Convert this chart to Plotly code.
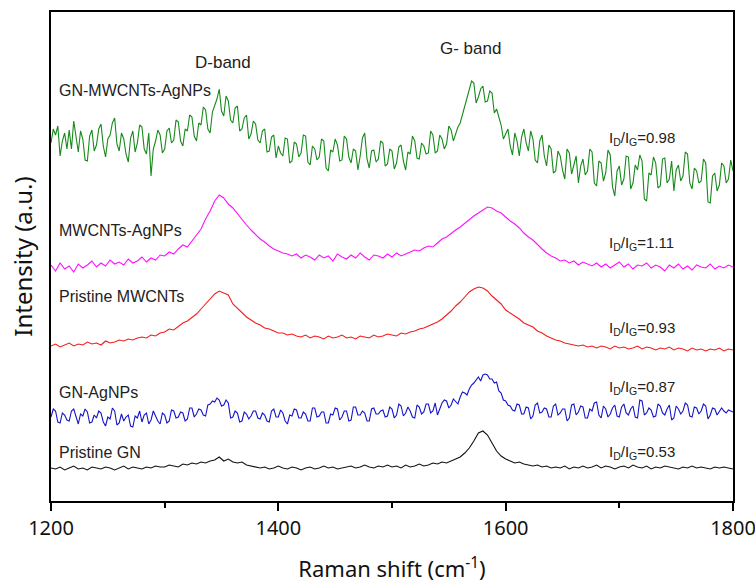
import plotly.graph_objects as go

raman_shift = list(range(1200, 1801, 4))        # coarse sampling (smooth spectra)
raman_shift_fine = list(range(1200, 1801, 2))   # fine sampling (noisy spectra)

gn_mwcnts_agnps = [
    358,372,366,375,345,360,368,352,371,352,
    380,366,349,370,362,341,340,365,371,350,
    356,372,377,355,344,362,366,378,383,357,
    350,368,362,347,339,363,370,349,358,376,
    374,352,347,368,325,352,360,371,366,348,
    352,370,373,358,361,381,379,360,355,372,
    370,386,384,365,360,378,376,394,391,372,
    368,389,395,402,412,390,385,405,400,381,
    378,393,395,370,372,383,386,362,367,380,
    377,361,358,370,372,349,350,364,366,343,
    355,348,345,363,362,338,340,359,357,344,
    348,366,365,339,336,355,352,341,344,362,
    360,333,330,351,349,362,356,340,341,365,
    362,344,338,352,350,331,345,363,368,342,
    333,350,351,339,342,360,358,335,337,352,
    350,332,338,354,356,340,331,349,347,365,
    360,343,342,358,355,347,348,370,366,348,
    350,366,362,352,357,375,371,360,367,374,
    378,386,395,402,410,420,418,398,404,412,
    415,399,400,410,408,388,392,383,376,362,
    368,372,355,346,368,360,345,364,372,358,
    350,370,362,341,338,360,366,345,335,356,
    352,328,330,350,345,331,322,352,348,327,
    336,345,318,335,342,326,330,352,349,318,
    315,340,338,320,328,351,346,314,305,330,
    335,316,322,345,344,312,318,336,331,346,
    340,302,300,328,326,344,338,313,315,342,
    343,318,322,340,310,331,336,320,325,349,
    347,318,312,333,330,318,320,342,338,299,
    298,325,328,310,316,338,335,318,322,341,
    330,
]

mwcnts_agnps = [
    236,230,238,232,235,229,237,233,236,240,234,238,235,241,237,239,236,242,238,240,244,239,243,241,246,
    245,249,247,252,256,254,260,266,272,282,290,300,
    306,303,297,293,287,281,276,271,
    266,262,259,255,252,250,248,247,245,247,243,246,244,241,246,243,245,240,247,244,242,246,243,248,244,241,246,245,243,247,
    244,248,245,247,249,251,250,253,255,254,258,262,264,268,271,
    274,278,281,285,288,291,294,293,290,288,284,
    280,277,273,268,264,261,256,252,248,245,243,240,241,238,240,236,239,237,235,238,234,237,233,236,239,234,237,232,236,235,
    238,233,236,234,230,236,233,237,232,235,231,236,234,233,237,232,235,233,236,234,
]

pristine_mwcnts = [
    155,157,154,156,158,155,157,156,159,157,158,156,160,158,159,161,160,162,161,163,164,163,166,165,168,
    169,172,171,175,178,180,184,187,192,197,203,207,
    210,208,206,197,193,188,184,181,
    178,176,173,172,170,168,168,166,167,165,164,166,163,165,164,162,165,163,164,166,163,164,162,165,164,163,166,164,165,167,
    166,165,168,167,169,170,172,173,175,177,179,182,186,190,195,
    199,204,209,212,214,213,210,205,201,197,191,
    188,185,182,178,176,174,170,168,165,163,161,160,158,157,156,155,156,154,155,153,155,154,152,155,153,154,152,153,155,152,
    154,153,151,153,152,154,151,153,152,150,153,151,152,150,152,151,153,150,152,151,
]

gn_agnps = [
    84,92,90,79,78,88,86,81,80,90,
    92,84,77,87,85,92,89,78,79,86,
    83,90,88,79,75,84,82,93,90,76,
    78,87,80,84,86,75,74,85,83,90,
    79,86,88,77,81,90,85,80,77,88,
    86,78,80,91,90,83,84,89,88,80,
    82,93,93,84,87,92,91,86,85,96,
    97,100,99,103,101,95,96,101,98,83,
    84,90,88,79,80,89,87,82,85,90,
    90,83,82,88,86,80,79,90,92,84,
    84,91,88,80,77,86,85,92,91,83,
    83,89,87,80,80,93,93,84,85,89,
    89,78,78,87,86,93,92,81,84,90,
    90,80,81,94,94,86,86,90,88,80,
    80,92,93,87,87,90,91,84,85,94,
    92,83,86,97,95,85,88,94,90,84,
    83,96,94,87,89,97,97,88,90,98,
    86,92,98,101,100,93,96,102,99,97,
    104,109,108,106,112,116,118,121,124,120,
    126,127,126,122,122,118,119,110,108,101,
    100,96,95,91,90,97,96,87,87,94,
    93,82,85,96,98,88,89,93,92,84,
    84,95,97,86,88,92,92,80,83,96,
    97,86,89,95,94,83,83,92,90,98,
    99,86,83,95,92,84,87,93,96,85,
    84,94,97,88,86,92,95,84,83,101,
    100,86,88,93,91,84,85,97,95,88,
    86,92,96,81,83,95,92,87,90,98,
    96,85,84,94,93,87,90,97,95,82,
    86,93,92,86,89,93,90,88,91,90,
    89,
]

pristine_gn = [
    33,32,34,31,33,35,32,33,31,34,33,32,34,33,31,33,35,32,34,33,32,34,33,35,34,
    34,36,35,34,37,36,38,37,39,38,40,41,
    44,40,42,39,38,39,36,35,
    34,33,34,32,33,35,33,32,34,33,31,33,34,32,33,35,33,34,32,33,34,35,33,34,36,34,33,35,34,36,
    34,35,33,36,34,35,37,35,36,38,37,39,38,40,42,
    44,48,53,60,68,70,66,58,50,45,42,
    40,38,39,37,36,35,36,34,35,33,34,33,35,32,34,33,35,33,34,36,33,35,34,32,34,35,33,36,34,33,
    35,32,34,33,35,34,33,32,34,33,35,33,34,33,32,34,33,34,33,32,
]

series_names = ["GN-MWCNTs-AgNPs", "MWCNTs-AgNPs", "Pristine MWCNTs", "GN-AgNPs", "Pristine GN"]
series_x = [raman_shift_fine, raman_shift, raman_shift, raman_shift_fine, raman_shift]
series_values = [gn_mwcnts_agnps, mwcnts_agnps, pristine_mwcnts, gn_agnps, pristine_gn]
series_colors = ["#168a1a", "#ff10ff", "#f51c1c", "#1414c8", "#111111"]
ratio_labels = ["0.98", "1.11", "0.93", "0.87", "0.53"]

name_label_y = [411, 271, 205, 109, 49]
ratio_label_y = [363, 258, 173, 114, 49]

fig = go.Figure()
for name, xs, vals, col in zip(series_names, series_x, series_values, series_colors):
    fig.add_trace(go.Scatter(x=xs, y=vals, mode="lines", name=name,
                             line=dict(color=col, width=1.1), showlegend=False))

name_font = dict(family="Liberation Sans, Arial, sans-serif", size=16, color="#222222")
ratio_font = dict(family="Liberation Sans, Arial, sans-serif", size=15, color="#222222")
for name, yv in zip(series_names, name_label_y):
    fig.add_annotation(x=1205, y=yv, text=name, showarrow=False, xanchor="left",
                       yanchor="middle", font=name_font)
for r, yv in zip(ratio_labels, ratio_label_y):
    fig.add_annotation(x=1689, y=yv, text="I<sub>D</sub>/I<sub>G</sub>=" + r, showarrow=False,
                       xanchor="left", yanchor="middle", font=ratio_font)
band_font = dict(family="Liberation Sans, Arial, sans-serif", size=17, color="#222222")
fig.add_annotation(x=1351, y=439, text="D-band", showarrow=False, xanchor="center",
                   yanchor="middle", font=band_font)
fig.add_annotation(x=1569, y=453, text="G- band", showarrow=False, xanchor="center",
                   yanchor="middle", font=band_font)

fig.update_layout(
    width=755, height=583,
    margin=dict(l=51, r=22, t=12, b=82, autoexpand=False),
    paper_bgcolor="white", plot_bgcolor="white",
    font=dict(family="Noto Sans, sans-serif", color="#111111"),
)
fig.update_xaxes(
    range=[1200, 1800], tickvals=[1200, 1400, 1600, 1800],
    ticks="outside", ticklen=8, tickwidth=1.5, tickcolor="black",
    minor=dict(tickvals=[1300, 1500, 1700], ticks="outside", ticklen=5, tickwidth=1.5, tickcolor="black"),
    showline=True, linecolor="black", linewidth=1.5, mirror=True,
    showgrid=False, zeroline=False, automargin=False,
    ticklabeloverflow="allow",
    tickfont=dict(size=20, family="Noto Sans, sans-serif"),
    title=dict(text="Raman shift (cm<sup>-1</sup>)", font=dict(size=22, family="Noto Sans, sans-serif"), standoff=24),
)
fig.update_yaxes(
    range=[0, 489], showticklabels=False, ticks="",
    showline=True, linecolor="black", linewidth=1.5, mirror=True,
    showgrid=False, zeroline=False, automargin=False,
    title=dict(text="Intensity (a.u.)", font=dict(size=24, family="Noto Sans, sans-serif"), standoff=10),
)

fig.write_html("out.html")
